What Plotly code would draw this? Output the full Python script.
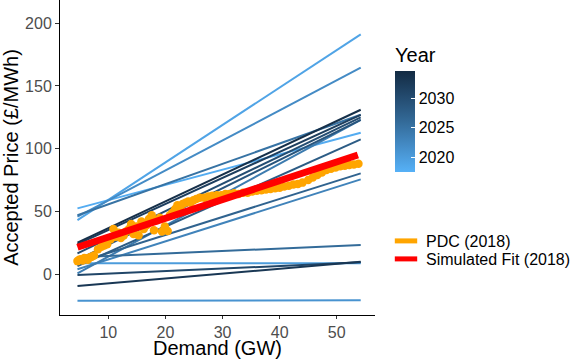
import plotly.graph_objects as go
from plotly.colors import sample_colorscale

# demand span of the yearly bid lines (GW)
demand_span = [4.6, 54.2]

years = [2018, 2019, 2020, 2021, 2022, 2023, 2024, 2025, 2026,
         2027, 2028, 2029, 2030, 2031, 2032, 2033, 2034]
# accepted price at the low / high end of the demand span (£/MWh)
price_start = [52.5, 43.2, 8.8, -21.0, 45.9, 4.0, 0.8, 47.0, 13.5,
               9.2, 6.6, 11.4, 16.7, -0.6, 24.0, -9.3, 25.2]
price_end = [112.7, 191.0, 8.8, -20.7, 164.5, 75.6, 123.0, 127.0, 23.3,
             80.4, 107.5, 123.0, 125.0, 9.5, 127.0, 10.0, 131.0]

# PDC (2018) observations
pdc_demand = [4.6, 4.9, 5.2, 5.5, 5.8, 6.1, 6.4, 6.8, 7.1, 7.5,
              8.2, 8.8, 9.3, 9.8,
              10.4, 10.9, 11.3, 11.8, 12.2, 12.7, 13.1, 13.6, 14.0, 14.4,
              14.9, 15.3, 15.8, 16.2, 16.7, 17.1, 17.6, 18.0, 18.5, 19.0, 19.4, 19.9, 20.4,
              20.8, 21.2, 21.7, 22.1, 22.6, 23.0, 23.5, 24.0, 24.4, 24.9, 25.4,
              26.0, 26.8, 27.5, 28.2, 29.0, 29.8, 30.5, 31.2, 32.0, 32.8, 33.6,
              34.4, 35.2, 36.0, 36.8, 37.6, 38.4, 39.2, 40.0, 40.8, 41.6, 42.4, 43.2, 44.0,
              45.0, 45.8, 46.6, 47.4, 48.2, 49.0, 49.8, 50.6, 51.4, 52.2, 53.0, 53.8]
pdc_price = [10.5, 11.5, 12.0, 11.0, 13.0, 12.5, 11.5, 13.5, 14.0, 15.0,
             20.0, 22.0, 23.0, 24.0,
             28.0, 36.0, 30.0, 33.0, 29.0, 31.0, 34.0, 36.0, 40.0, 32.0,
             38.0, 31.0, 42.0, 36.0, 39.0, 44.0, 47.0, 35.0, 43.0, 45.0, 34.0, 38.0, 34.5,
             47.0, 49.0, 52.0, 55.0, 53.0, 56.0, 57.0, 58.0, 57.0, 59.0, 60.0, 61.0,
             61.0, 62.0, 62.5, 63.0, 63.0, 64.0, 64.0, 64.5, 64.0, 65.0, 65.0,
             66.0, 66.5, 67.0, 67.5, 68.0, 68.5, 69.0, 70.0, 70.5, 71.5, 72.0, 73.0, 75.0,
             77.0, 79.0, 81.0, 83.0, 84.0, 85.0, 86.0, 86.5, 87.0, 87.5, 88.0, 88.0]

# simulated fit (2018)
fit_demand = [4.6, 53.7]
fit_price = [21.5, 95.0]

year_min, year_max = 2017.45, 2034.7
scale = [[0, "#56B1F7"], [0.25, "#458DC8"], [0.5, "#336A98"],
         [0.75, "#234A6E"], [1, "#132B43"]]

fig = go.Figure()

for yr, p0, p1 in zip(years, price_start, price_end):
    col = sample_colorscale(scale, (yr - year_min) / (year_max - year_min))[0]
    fig.add_trace(go.Scatter(x=demand_span, y=[p0, p1], mode="lines",
                             line=dict(color=col, width=2), showlegend=False,
                             hoverinfo="skip"))

fig.add_trace(go.Scatter(x=pdc_demand, y=pdc_price, mode="markers",
                         marker=dict(color="orange", size=8.5), showlegend=False))
fig.add_trace(go.Scatter(x=fit_demand, y=fit_price, mode="lines",
                         line=dict(color="red", width=7), showlegend=False))

# legend keys (one legend each so the spacing can match)
fig.add_trace(go.Scatter(x=[None], y=[None], mode="markers", name="PDC (2018)",
                         legend="legend",
                         marker=dict(symbol="line-ew-open", size=16, color="orange",
                                     line=dict(color="orange", width=5))))
fig.add_trace(go.Scatter(x=[None], y=[None], mode="markers", name="Simulated Fit (2018)",
                         legend="legend2",
                         marker=dict(symbol="line-ew-open", size=16, color="red",
                                     line=dict(color="red", width=5))))

# colour bar for year
fig.add_trace(go.Scatter(x=[None], y=[None], mode="markers", showlegend=False,
                         marker=dict(color=[year_min], colorscale=scale,
                                     cmin=year_min, cmax=year_max, showscale=True,
                                     colorbar=dict(xref="container", x=395 / 581, xanchor="left",
                                                   yref="container", y=1 - 138.5 / 359, yanchor="middle",
                                                   thickness=20, lenmode="pixels", len=101,
                                                   outlinewidth=0, tickvals=[2020, 2025, 2030],
                                                   ticks="inside", tickcolor="white", ticklen=4,
                                                   tickfont=dict(size=16, color="black"),
                                                   xpad=0, ypad=0))))

fig.add_annotation(text="Year", xref="paper", yref="paper", x=(393 - 60) / 315,
                   y=1 - 55 / 315, xanchor="left", yanchor="middle", showarrow=False,
                   font=dict(size=20, color="black"))

fig.update_xaxes(range=[1.54, 56.7], showline=True, linecolor="black", linewidth=1,
                 ticks="outside", ticklen=3, tickcolor="#333333", showgrid=False,
                 zeroline=False, tickvals=[10, 20, 30, 40, 50], automargin=False,
                 tickfont=dict(size=16, color="#4D4D4D"),
                 title=dict(text="Demand (GW)", font=dict(size=20, color="black"), standoff=0))
fig.update_yaxes(range=[-32.4, 218.4], showline=True, linecolor="black", linewidth=1,
                 ticks="outside", ticklen=4, tickcolor="#333333", showgrid=False,
                 zeroline=False, tickvals=[0, 50, 100, 150, 200], automargin=False,
                 tickfont=dict(size=16, color="#4D4D4D"),
                 title=dict(text="Accepted Price (£/MWh)", font=dict(size=20, color="black"), standoff=4))

leg = dict(xref="container", x=386 / 581, yref="container", xanchor="left", yanchor="top",
           font=dict(size=16, color="black"), bgcolor="rgba(0,0,0,0)")
fig.update_layout(width=581, height=359,
                  margin=dict(l=60, r=206, t=0, b=44, autoexpand=False),
                  plot_bgcolor="white", paper_bgcolor="white",
                  font=dict(family="Liberation Sans, Arial, sans-serif"),
                  legend=dict(leg, y=1 - 224 / 359),
                  legend2=dict(leg, y=1 - 242 / 359))

fig.write_html("out.html", config={"displayModeBar": False},
               post_script="document.body.style.margin='0';")
